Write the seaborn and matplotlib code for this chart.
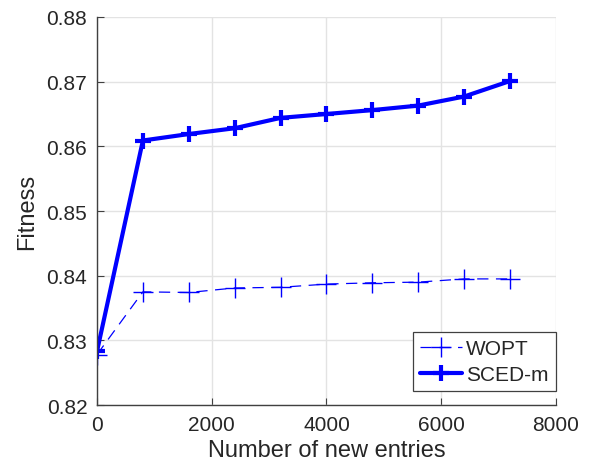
import matplotlib
matplotlib.use("Agg")
import matplotlib.pyplot as plt
import seaborn as sns
import pandas as pd

# Number of new entries added at each step
entries = [0, 800, 1600, 2400, 3200, 4000, 4800, 5600, 6400, 7200]

# Fitness of each method
wopt = [0.8278, 0.8375, 0.8374, 0.8381, 0.8382, 0.8387, 0.8389, 0.8390, 0.8395, 0.8395]
sced_m = [0.8283, 0.8609, 0.8619, 0.8628, 0.8644, 0.8650, 0.8656, 0.8663, 0.8677, 0.8701]

x_ticks = [0, 2000, 4000, 6000, 8000]
y_ticks = [0.82, 0.83, 0.84, 0.85, 0.86, 0.87, 0.88]

sns.set_style("whitegrid")
plt.rcParams["font.family"] = ["Liberation Sans", "DejaVu Sans"]

df_wopt = pd.DataFrame({"entries": entries, "fitness": wopt})
df_sced = pd.DataFrame({"entries": entries, "fitness": sced_m})

fig = plt.figure(figsize=(6.01, 4.77), dpi=100)
ax = fig.add_axes([0.1614, 0.1488, 0.7636, 0.8135])

blue = "#0000ff"
sns.lineplot(data=df_wopt, x="entries", y="fitness", ax=ax, color=blue,
             linewidth=0.9, linestyle=(0, (9, 6)), marker="+", markersize=14,
             markeredgewidth=1.0, markeredgecolor=blue, markerfacecolor=blue,
             label="WOPT")
sns.lineplot(data=df_sced, x="entries", y="fitness", ax=ax, color=blue,
             linewidth=3.0, marker="+", markersize=12, markeredgewidth=3.0,
             markeredgecolor=blue, markerfacecolor=blue, label="SCED-m")

ax.set_xlim(0, 8000)
ax.set_ylim(0.82, 0.88)
ax.set_xticks(x_ticks)
ax.set_yticks(y_ticks)
ax.set_yticklabels([f"{v:.2f}" for v in y_ticks])
ax.grid(True, color="#e3e3e3", linewidth=1.0)

for side in ("top", "right"):
    ax.spines[side].set_visible(False)
for side in ("left", "bottom"):
    ax.spines[side].set_color("#404040")
    ax.spines[side].set_linewidth(1.0)

ax.tick_params(axis="both", which="major", direction="in", length=5,
               width=0.8, color="#404040", labelsize=15, labelcolor="#262626",
               pad=7, left=True, bottom=True)

ax.set_xlabel("Number of new entries", fontsize=17, color="#262626", labelpad=4)
ax.set_ylabel("Fitness", fontsize=17, color="#262626", labelpad=6)

leg = ax.legend(loc="lower right", bbox_to_anchor=(1.0, 0.035), fontsize=15,
                frameon=True, fancybox=False, framealpha=1.0,
                handlelength=2.0, handletextpad=0.2, borderpad=0.35,
                labelspacing=0.35, borderaxespad=0.0)
leg.get_frame().set_edgecolor("#404040")
leg.get_frame().set_linewidth(0.9)

fig.savefig("out.png", dpi=100)
